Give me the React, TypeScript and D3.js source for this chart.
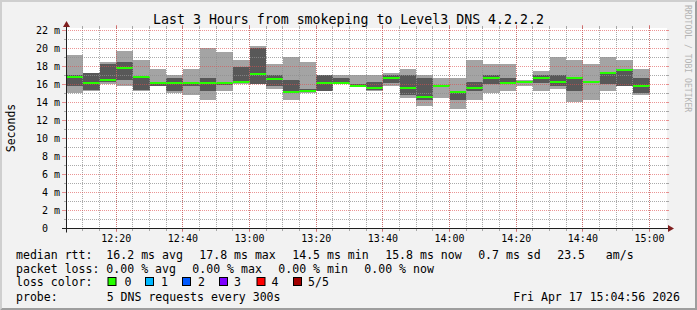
import React from 'react';
import * as d3 from 'd3';

const W = 697;
const H = 310;

const START = '12:04:56';
const END = '15:04:56';

// start time of each 5-minute step (300 s)
const barStarts = [
  '12:05', '12:10', '12:15', '12:20', '12:25', '12:30', '12:35', '12:40', '12:45', '12:50',
  '12:55', '13:00', '13:05', '13:10', '13:15', '13:20', '13:25', '13:30', '13:35', '13:40',
  '13:45', '13:50', '13:55', '14:00', '14:05', '14:10', '14:15', '14:20', '14:25', '14:30',
  '14:35', '14:40', '14:45', '14:50', '14:55',
];

// sorted pings (ms): ping1 = min ... ping5 = max, ping3 = median
const ping1 = [15.1, 15.33, 16.07, 15.78, 15.33, 15.78, 15.1, 14.78, 14.33, 15.33, 16.1, 16.05, 15.52, 14.33, 15.1, 15.33, 16.05, 15.7, 15.33, 15.78, 14.52, 13.56, 14.52, 13.33, 14.33, 15.1, 15.33, 15.78, 15.33, 15.52, 14.11, 14.33, 15.33, 15.78, 14.78];
const ping2 = [15.78, 15.35, 16.3, 16.5, 15.35, 15.8, 15.33, 15.78, 15.33, 16.0, 16.15, 16.07, 15.78, 15.04, 15.15, 15.33, 16.07, 15.7, 15.35, 16.15, 14.78, 14.33, 15.7, 14.33, 15.33, 16.07, 16.07, 16.2, 16.15, 15.78, 15.33, 16.2, 16.07, 15.8, 15.1];
const median = [16.78, 16.15, 16.5, 17.78, 16.78, 16.15, 16.15, 16.15, 16.15, 16.15, 16.33, 17.15, 16.56, 15.15, 15.33, 16.15, 16.15, 15.81, 15.56, 16.74, 15.56, 14.56, 15.78, 15.15, 15.56, 16.74, 16.15, 16.33, 16.74, 16.33, 16.74, 16.33, 17.33, 17.56, 15.78];
const ping4 = [17.07, 17.26, 18.3, 18.5, 16.85, 16.33, 16.74, 16.33, 16.74, 16.3, 18.0, 20.07, 17.07, 16.5, 15.5, 17.07, 16.74, 16.1, 16.33, 17.07, 17.07, 16.74, 15.9, 15.2, 16.33, 17.07, 16.74, 16.4, 17.07, 17.07, 16.8, 16.4, 17.4, 17.7, 16.74];
const ping5 = [19.3, 17.3, 18.5, 19.74, 18.74, 17.74, 17.07, 17.74, 20.07, 19.56, 18.74, 20.3, 18.3, 19.07, 18.5, 17.1, 17.07, 17.07, 17.07, 17.26, 17.74, 17.07, 16.74, 16.74, 18.74, 18.3, 18.3, 16.5, 17.52, 19.07, 18.74, 18.3, 19.07, 18.74, 17.74];

const yTickValues = [0, 2, 4, 6, 8, 10, 12, 14, 16, 18, 20, 22];
const yMinorValues = [1, 3, 5, 7, 9, 11, 13, 15, 17, 19, 21];
const xTickLabels = ['12:20', '12:40', '13:00', '13:20', '13:40', '14:00', '14:20', '14:40', '15:00'];

const title = 'Last 3 Hours from smokeping to Level3 DNS 4.2.2.2';
const yAxisTitle = 'Seconds';
const watermark = 'RRDTOOL / TOBI OETIKER';

const medianItems = ['median rtt:  16.2 ms avg', '17.8 ms max', '14.5 ms min', '15.8 ms now', '0.7 ms sd', '23.5   am/s'];
const lossItems = ['packet loss: 0.00 % avg', '0.00 % max', '0.00 % min', '0.00 % now'];
const lossLabels = ['0', '1', '2', '3', '4', '5/5'];
const lossColors = ['#26ff00', '#00b8ff', '#0059ff', '#7e00ff', '#ff0000', '#a10000'];
const probeLabel = 'probe:';
const probeText = '5 DNS requests every 300s';
const dateText = 'Fri Apr 17 15:04:56 2026';

const MONO = '"DejaVu Sans Mono", "Liberation Mono", monospace';
const GRID = 'rgba(143,143,143,0.75)';
const MGRID = 'rgba(222,79,79,0.6)';
const SMOKE1 = '#a4a4a4';
const SMOKE2 = '#585858';

function at(s: string): Date {
  const [h, m, sec] = s.split(':').map(Number);
  return new Date(2026, 3, 17, h, m, sec || 0);
}

// rrdtool-like legend flow: items left-aligned with a fixed gap
const CHAR = 6.95;
const GAP = 16.5;
function flow(items: string[], x0: number): number[] {
  const xs: number[] = [];
  let cx = x0;
  for (const s of items) {
    xs.push(cx);
    cx += s.length * CHAR + GAP;
  }
  return xs;
}

const pre = { whiteSpace: 'pre' as const };

export default function App() {
  const X0 = 66, X1 = 666, Y0 = 228.5, Y1 = 28.5;
  const x = d3.scaleTime().domain([at(START), at(END)]).range([X0, X1]);
  const y = d3.scaleLinear().domain([0, 200 / 9]).range([Y0, Y1]);

  const minorTimes = d3.timeMinute.every(5)!.range(at('12:05'), at(END));
  const majorTimes = xTickLabels.map(at);
  const gx = (t: Date) => Math.floor(x(t)) + 0.5;

  const medX = flow(medianItems, 16);
  const lossX = flow(lossItems, 16);
  const boxX = [108, 145.5, 182.5, 219.5, 257, 293.5];
  const boxLabelX = [124.4, 161, 198, 234, 271.5, 308];

  return (
    <svg width={W} height={H} style={{ position: 'absolute', left: 0, top: 0, display: 'block' }}
      xmlns="http://www.w3.org/2000/svg">
      {/* background & frame */}
      <rect x={0} y={0} width={W} height={H} fill="#f2f2f2" />
      <polygon points={`0,0 ${W},0 ${W - 2},2 2,2 2,${H - 2} 0,${H}`} fill="#cfcfcf" />
      <polygon points={`${W},0 ${W},${H} 0,${H} 2,${H - 2} ${W - 2},${H - 2} ${W - 2},2`} fill="#9e9e9e" />

      {/* canvas */}
      <rect x={X0} y={28} width={X1 - X0 + 1} height={201} fill="#ffffff" />

      {/* smoke */}
      <g shapeRendering="crispEdges">
        {barStarts.map((s, i) => {
          const t0 = at(s);
          const t1 = new Date(t0.getTime() + 300000);
          const xa = Math.round(x(t0));
          const xb = Math.round(x(t1));
          return (
            <g key={s}>
              <rect x={xa} width={xb - xa} y={y(ping5[i])} height={y(ping1[i]) - y(ping5[i])} fill={SMOKE1} />
              <rect x={xa} width={xb - xa} y={y(ping4[i])} height={y(ping2[i]) - y(ping4[i])} fill={SMOKE2} />
              <rect x={xa} width={xb - xa} y={Math.round(y(median[i]) - 1)} height={2} fill={lossColors[0]} />
            </g>
          );
        })}
      </g>

      {/* minor grid */}
      <g stroke={GRID} strokeWidth={1} strokeDasharray="1,1" fill="none">
        {yMinorValues.map(v => (
          <line key={'hy' + v} x1={X0} x2={X1 + 1} y1={y(v)} y2={y(v)} />
        ))}
        {minorTimes.map(t => (
          <line key={'vx' + t.getTime()} x1={gx(t)} x2={gx(t)} y1={Y1 - 0.5} y2={Y0} />
        ))}
      </g>
      <g stroke={GRID} strokeWidth={1} fill="none">
        {yMinorValues.map(v => (
          <g key={'ty' + v}>
            <line x1={X0 - 2} x2={X0} y1={y(v)} y2={y(v)} />
            <line x1={X1 + 1} x2={X1 + 3} y1={y(v)} y2={y(v)} />
          </g>
        ))}
        {minorTimes.map(t => (
          <g key={'tx' + t.getTime()}>
            <line x1={gx(t)} x2={gx(t)} y1={Y0} y2={Y0 + 2.5} />
            <line x1={gx(t)} x2={gx(t)} y1={Y1 - 2.5} y2={Y1} />
          </g>
        ))}
      </g>

      {/* major grid */}
      <g stroke={MGRID} strokeWidth={1} strokeDasharray="1,1" fill="none">
        {yTickValues.filter(v => v > 0).map(v => (
          <line key={'my' + v} x1={X0} x2={X1 + 1} y1={y(v)} y2={y(v)} />
        ))}
        {majorTimes.map(t => (
          <line key={'mx' + t.getTime()} x1={gx(t)} x2={gx(t)} y1={Y1 - 0.5} y2={Y0} />
        ))}
      </g>
      <g stroke={MGRID} strokeWidth={1} fill="none">
        {yTickValues.map(v => (
          <g key={'mty' + v}>
            <line x1={X0 - 4} x2={X0} y1={y(v)} y2={y(v)} />
            <line x1={X1 + 1} x2={X1 + 3} y1={y(v)} y2={y(v)} />
          </g>
        ))}
        {majorTimes.map(t => (
          <g key={'mtx' + t.getTime()}>
            <line x1={gx(t)} x2={gx(t)} y1={Y0} y2={Y0 + 3.5} />
            <line x1={gx(t)} x2={gx(t)} y1={Y1 - 3.5} y2={Y1} />
          </g>
        ))}
      </g>

      {/* axes */}
      <g stroke="#1f1f1f" strokeWidth={1}>
        <line x1={X0 - 4} x2={X1 + 3} y1={Y0} y2={Y0} />
        <line x1={X0 + 0.5} x2={X0 + 0.5} y1={Y0 + 4} y2={Y1 - 2} />
      </g>
      <polygon points={`${X0 + 0.5},21 ${X0 - 3},27 ${X0 + 4},27`} fill="#801f1f" />
      <polygon points={`674,${Y0} 668,${Y0 - 3.5} 668,${Y0 + 3.5}`} fill="#801f1f" />

      {/* axis labels */}
      <g fontFamily={MONO} fontSize={10} fill="#000">
        {yTickValues.map(v => (
          <text key={'yl' + v} x={v === 0 ? 48 : 60} y={y(v) + 3.6} textAnchor="end">
            {v === 0 ? '0' : `${v} m`}
          </text>
        ))}
        {majorTimes.map((t, i) => (
          <text key={'xl' + i} x={x(t)} y={242} textAnchor="middle">{xTickLabels[i]}</text>
        ))}
      </g>

      {/* titles */}
      <text x={W / 2} y={24} textAnchor="middle" fontFamily={MONO} fontSize={13.25} fill="#000">{title}</text>
      <text transform="translate(14.5,128) rotate(-90)" textAnchor="middle" fontFamily={MONO} fontSize={11.5} fill="#000">{yAxisTitle}</text>
      <text transform="translate(685,5) rotate(90)" textAnchor="start" fontFamily={MONO} fontSize={8.1} fill="#b4b4b4">{watermark}</text>

      {/* legend */}
      <g fontFamily={MONO} fontSize={11.55} fill="#000">
        {medianItems.map((s, i) => (
          <text key={'ms' + i} x={medX[i]} y={258.5} xmlSpace="preserve" style={pre}>{s}</text>
        ))}
        {lossItems.map((s, i) => (
          <text key={'ls' + i} x={lossX[i]} y={272.7} xmlSpace="preserve" style={pre}>{s}</text>
        ))}
        <text x={16} y={286.3}>loss color:</text>
        {lossLabels.map((s, i) => (
          <g key={'lc' + i}>
            <rect x={boxX[i]} y={277.5} width={8} height={8} fill={lossColors[i]} stroke="#000" strokeWidth={1} />
            <text x={boxLabelX[i]} y={286.3}>{s}</text>
          </g>
        ))}
        <text x={16} y={300.8}>{probeLabel}</text>
        <text x={106.7} y={300.8}>{probeText}</text>
        <text x={680} y={300.8} textAnchor="end">{dateText}</text>
      </g>
    </svg>
  );
}
